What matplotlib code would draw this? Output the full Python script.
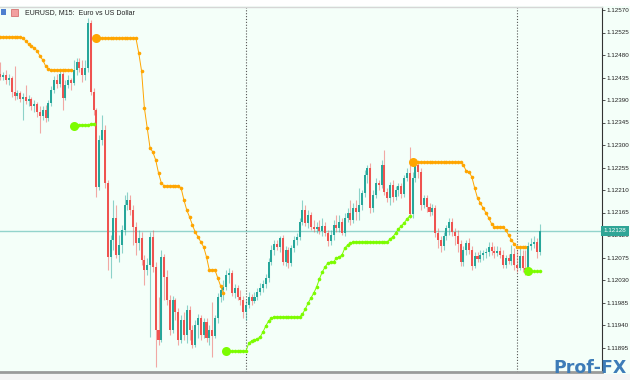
import matplotlib.pyplot as plt
import numpy as np
from matplotlib.patches import Rectangle
from matplotlib.transforms import blended_transform_factory

# EURUSD M15 bars (price)
opens = [
    1.12442, 1.12436, 1.12440, 1.12430, 1.12434, 1.12406, 1.12398, 1.12404, 1.12392, 1.12396, 1.12388, 1.12392,
    1.12378, 1.12382, 1.12366, 1.12358, 1.12370, 1.12354, 1.12384, 1.12410, 1.12430, 1.12422, 1.12442, 1.12394,
    1.12420, 1.12430, 1.12424, 1.12450, 1.12466, 1.12454, 1.12440, 1.12454, 1.12544, 1.12406, 1.12370, 1.12216,
    1.12310, 1.12330, 1.12224, 1.12076, 1.12110, 1.12154, 1.12080, 1.12100, 1.12130, 1.12180, 1.12190, 1.12170,
    1.12136, 1.12104, 1.12114, 1.12070, 1.12050, 1.12060, 1.12116, 1.12056, 1.11930, 1.11910, 1.12076, 1.12036,
    1.11990, 1.11930, 1.11990, 1.11966, 1.11910, 1.11950, 1.11920, 1.11970, 1.11930, 1.11900, 1.11940, 1.11954,
    1.11920, 1.11946, 1.11914, 1.11930, 1.11918, 1.11954, 1.11996, 1.12010, 1.12016, 1.12040, 1.12044, 1.12004,
    1.12014, 1.11996, 1.11990, 1.11966, 1.11980, 1.11996, 1.11988, 1.11996, 1.12006, 1.12014, 1.12022, 1.12034,
    1.12066, 1.12090, 1.12102, 1.12096, 1.12114, 1.12066, 1.12090, 1.12064, 1.12094, 1.12110, 1.12116, 1.12146,
    1.12170, 1.12144, 1.12160, 1.12136, 1.12132, 1.12136, 1.12128, 1.12138, 1.12124, 1.12108, 1.12120, 1.12140,
    1.12134, 1.12146, 1.12124, 1.12154, 1.12164, 1.12150, 1.12174, 1.12166, 1.12180, 1.12204, 1.12240, 1.12254,
    1.12174, 1.12200, 1.12224, 1.12220, 1.12260, 1.12206, 1.12194, 1.12220, 1.12196, 1.12210, 1.12218, 1.12202,
    1.12234, 1.12244, 1.12162, 1.12234, 1.12260, 1.12246, 1.12180, 1.12194, 1.12176, 1.12166, 1.12174, 1.12124,
    1.12110, 1.12098, 1.12118, 1.12134, 1.12146, 1.12126, 1.12118, 1.12102, 1.12066, 1.12090, 1.12104, 1.12090,
    1.12058, 1.12078, 1.12072, 1.12080, 1.12084, 1.12086, 1.12096, 1.12088, 1.12084, 1.12088, 1.12080, 1.12060,
    1.12074, 1.12068, 1.12082, 1.12060, 1.12054, 1.12078, 1.12054, 1.12050, 1.12098, 1.12102, 1.12106, 1.12086,
]
highs = [
    1.12466, 1.12446, 1.12450, 1.12442, 1.12438, 1.12458, 1.12410, 1.12408, 1.12404, 1.12420, 1.12400, 1.12396,
    1.12390, 1.12386, 1.12378, 1.12378, 1.12380, 1.12390, 1.12418, 1.12438, 1.12442, 1.12450, 1.12446, 1.12430,
    1.12440, 1.12434, 1.12470, 1.12474, 1.12474, 1.12470, 1.12470, 1.12554, 1.12550, 1.12414, 1.12374, 1.12320,
    1.12360, 1.12340, 1.12230, 1.12120, 1.12190, 1.12180, 1.12120, 1.12140, 1.12200, 1.12206, 1.12200, 1.12180,
    1.12146, 1.12130, 1.12126, 1.12080, 1.12074, 1.12126, 1.12130, 1.12066, 1.11996, 1.12090, 1.12082, 1.12050,
    1.12000, 1.11998, 1.11994, 1.11974, 1.11960, 1.11966, 1.11980, 1.11978, 1.11940, 1.11950, 1.11962, 1.11960,
    1.11954, 1.11954, 1.11940, 1.11986, 1.11960, 1.12004, 1.12020, 1.12030, 1.12050, 1.12054, 1.12050, 1.12022,
    1.12020, 1.12010, 1.11998, 1.11990, 1.12006, 1.12002, 1.12006, 1.12014, 1.12024, 1.12030, 1.12042, 1.12074,
    1.12100, 1.12110, 1.12110, 1.12118, 1.12120, 1.12098, 1.12096, 1.12100, 1.12118, 1.12124, 1.12154, 1.12190,
    1.12180, 1.12170, 1.12166, 1.12150, 1.12146, 1.12150, 1.12154, 1.12146, 1.12130, 1.12130, 1.12150, 1.12160,
    1.12160, 1.12154, 1.12164, 1.12174, 1.12190, 1.12184, 1.12190, 1.12214, 1.12210, 1.12250, 1.12260, 1.12264,
    1.12210, 1.12234, 1.12230, 1.12270, 1.12290, 1.12214, 1.12226, 1.12230, 1.12218, 1.12224, 1.12224, 1.12240,
    1.12254, 1.12296, 1.12246, 1.12270, 1.12266, 1.12254, 1.12200, 1.12200, 1.12184, 1.12182, 1.12180, 1.12134,
    1.12118, 1.12126, 1.12140, 1.12154, 1.12154, 1.12134, 1.12130, 1.12110, 1.12098, 1.12110, 1.12114, 1.12098,
    1.12086, 1.12086, 1.12090, 1.12090, 1.12094, 1.12106, 1.12106, 1.12098, 1.12098, 1.12096, 1.12090, 1.12080,
    1.12082, 1.12100, 1.12094, 1.12090, 1.12094, 1.12090, 1.12090, 1.12106, 1.12114, 1.12118, 1.12114, 1.12142,
]
lows = [
    1.12430, 1.12430, 1.12422, 1.12420, 1.12396, 1.12390, 1.12392, 1.12386, 1.12350, 1.12382, 1.12378, 1.12370,
    1.12366, 1.12356, 1.12324, 1.12350, 1.12346, 1.12348, 1.12378, 1.12404, 1.12414, 1.12416, 1.12370, 1.12390,
    1.12414, 1.12410, 1.12420, 1.12440, 1.12446, 1.12426, 1.12430, 1.12446, 1.12400, 1.12360, 1.12196, 1.12210,
    1.12300, 1.12214, 1.12050, 1.12034, 1.12090, 1.12074, 1.12066, 1.12084, 1.12120, 1.12170, 1.12160, 1.12100,
    1.12080, 1.12090, 1.12060, 1.12020, 1.12040, 1.11916, 1.12046, 1.11856, 1.11900, 1.11906, 1.11990, 1.11980,
    1.11920, 1.11924, 1.11950, 1.11900, 1.11904, 1.11910, 1.11904, 1.11910, 1.11894, 1.11896, 1.11914, 1.11910,
    1.11914, 1.11906, 1.11900, 1.11876, 1.11914, 1.11944, 1.11986, 1.11990, 1.12010, 1.12024, 1.11998, 1.11994,
    1.11990, 1.11980, 1.11954, 1.11950, 1.11974, 1.11980, 1.11984, 1.11990, 1.12000, 1.12006, 1.12014, 1.12026,
    1.12060, 1.12080, 1.12090, 1.12086, 1.12060, 1.12058, 1.12054, 1.12058, 1.12086, 1.12100, 1.12110, 1.12140,
    1.12138, 1.12134, 1.12130, 1.12126, 1.12124, 1.12122, 1.12118, 1.12118, 1.12098, 1.12100, 1.12110, 1.12126,
    1.12126, 1.12120, 1.12118, 1.12146, 1.12140, 1.12144, 1.12150, 1.12150, 1.12170, 1.12196, 1.12224, 1.12164,
    1.12166, 1.12194, 1.12210, 1.12214, 1.12200, 1.12186, 1.12180, 1.12186, 1.12190, 1.12198, 1.12194, 1.12196,
    1.12228, 1.12154, 1.12154, 1.12226, 1.12234, 1.12170, 1.12174, 1.12166, 1.12158, 1.12160, 1.12116, 1.12094,
    1.12086, 1.12090, 1.12110, 1.12120, 1.12118, 1.12100, 1.12086, 1.12058, 1.12058, 1.12080, 1.12082, 1.12050,
    1.12054, 1.12066, 1.12066, 1.12070, 1.12074, 1.12078, 1.12080, 1.12074, 1.12078, 1.12074, 1.12054, 1.12054,
    1.12062, 1.12060, 1.12050, 1.12046, 1.12050, 1.12046, 1.12040, 1.12046, 1.12090, 1.12094, 1.12074, 1.12080,
]
closes = [
    1.12436, 1.12440, 1.12430, 1.12434, 1.12406, 1.12398, 1.12404, 1.12392, 1.12396, 1.12388, 1.12392, 1.12378,
    1.12382, 1.12366, 1.12358, 1.12370, 1.12354, 1.12384, 1.12410, 1.12430, 1.12422, 1.12442, 1.12394, 1.12420,
    1.12430, 1.12424, 1.12450, 1.12466, 1.12454, 1.12440, 1.12454, 1.12544, 1.12406, 1.12370, 1.12216, 1.12310,
    1.12330, 1.12224, 1.12076, 1.12110, 1.12154, 1.12080, 1.12100, 1.12130, 1.12180, 1.12190, 1.12170, 1.12136,
    1.12104, 1.12114, 1.12070, 1.12050, 1.12060, 1.12116, 1.12056, 1.11930, 1.11910, 1.12076, 1.12036, 1.11990,
    1.11930, 1.11990, 1.11966, 1.11910, 1.11950, 1.11920, 1.11970, 1.11930, 1.11900, 1.11940, 1.11954, 1.11920,
    1.11946, 1.11914, 1.11930, 1.11918, 1.11954, 1.11996, 1.12010, 1.12016, 1.12040, 1.12044, 1.12004, 1.12014,
    1.11996, 1.11990, 1.11966, 1.11980, 1.11996, 1.11988, 1.11996, 1.12006, 1.12014, 1.12022, 1.12034, 1.12066,
    1.12090, 1.12102, 1.12096, 1.12114, 1.12066, 1.12090, 1.12064, 1.12094, 1.12110, 1.12116, 1.12146, 1.12170,
    1.12144, 1.12160, 1.12136, 1.12132, 1.12136, 1.12128, 1.12138, 1.12124, 1.12108, 1.12120, 1.12140, 1.12134,
    1.12146, 1.12124, 1.12154, 1.12164, 1.12150, 1.12174, 1.12166, 1.12180, 1.12204, 1.12240, 1.12254, 1.12174,
    1.12200, 1.12224, 1.12220, 1.12260, 1.12206, 1.12194, 1.12220, 1.12196, 1.12210, 1.12218, 1.12202, 1.12234,
    1.12244, 1.12162, 1.12234, 1.12260, 1.12246, 1.12180, 1.12194, 1.12176, 1.12166, 1.12174, 1.12124, 1.12110,
    1.12098, 1.12118, 1.12134, 1.12146, 1.12126, 1.12118, 1.12102, 1.12066, 1.12090, 1.12104, 1.12090, 1.12058,
    1.12078, 1.12072, 1.12080, 1.12084, 1.12086, 1.12096, 1.12088, 1.12084, 1.12088, 1.12080, 1.12060, 1.12074,
    1.12068, 1.12082, 1.12060, 1.12054, 1.12078, 1.12054, 1.12050, 1.12098, 1.12102, 1.12106, 1.12086, 1.12128,
]

# trailing stop indicator: segments as (first bar, values)
sell_stops = [
    (0, [1.12516, 1.12516, 1.12516, 1.12516, 1.12516, 1.12516, 1.12516, 1.12516, 1.12514, 1.12508, 1.12502,
         1.12498, 1.12494, 1.12488, 1.12478, 1.12470, 1.12458, 1.12452, 1.12450, 1.12450, 1.12450, 1.12450,
         1.12450, 1.12450, 1.12450, 1.12450]),
    (34, [1.12514, 1.12514, 1.12514, 1.12514, 1.12514, 1.12514, 1.12514, 1.12514, 1.12514, 1.12514, 1.12514,
          1.12514, 1.12514, 1.12514, 1.12514, 1.12484, 1.12448, 1.12374, 1.12334, 1.12294, 1.12286, 1.12270,
          1.12244, 1.12224, 1.12218, 1.12218, 1.12218, 1.12218, 1.12218, 1.12218, 1.12214, 1.12190, 1.12170,
          1.12156, 1.12140, 1.12126, 1.12116, 1.12106, 1.12096, 1.12076, 1.12050, 1.12050, 1.12050, 1.12034,
          1.12018, 1.12004]),
    (146, [1.12266, 1.12266, 1.12266, 1.12266, 1.12266, 1.12266, 1.12266, 1.12266, 1.12266, 1.12266, 1.12266,
           1.12266, 1.12266, 1.12266, 1.12266, 1.12266, 1.12266, 1.12266, 1.12260, 1.12248, 1.12246, 1.12236,
           1.12214, 1.12194, 1.12184, 1.12174, 1.12164, 1.12154, 1.12142, 1.12136, 1.12136, 1.12136, 1.12136,
           1.12130, 1.12120, 1.12110, 1.12102, 1.12096, 1.12096, 1.12096, 1.12096]),
]
buy_stops = [
    (26, [1.12338, 1.12338, 1.12340, 1.12340, 1.12340, 1.12340, 1.12342, 1.12342]),
    (80, [1.11888, 1.11888, 1.11888, 1.11888, 1.11888, 1.11888, 1.11888, 1.11888, 1.11904, 1.11908, 1.11910,
          1.11912, 1.11916, 1.11926, 1.11938, 1.11948, 1.11954, 1.11956, 1.11956, 1.11956, 1.11956, 1.11956,
          1.11956, 1.11956, 1.11956, 1.11956, 1.11956, 1.11962, 1.11972, 1.11984, 1.11994, 1.12004, 1.12016,
          1.12032, 1.12046, 1.12056, 1.12064, 1.12066, 1.12066, 1.12074, 1.12076, 1.12080, 1.12094, 1.12100,
          1.12104, 1.12106, 1.12106, 1.12106, 1.12106, 1.12106, 1.12106, 1.12106, 1.12106, 1.12106, 1.12106,
          1.12106, 1.12106, 1.12106, 1.12112, 1.12116, 1.12124, 1.12132, 1.12138, 1.12144, 1.12152, 1.12158]),
    (187, [1.12048, 1.12048, 1.12048, 1.12048, 1.12048]),
]

day_breaks = [87, 183]
price_ticks = [1.12570, 1.12525, 1.12480, 1.12435, 1.12390, 1.12345, 1.12300, 1.12255, 1.12210,
               1.12165, 1.12120, 1.12075, 1.12030, 1.11985, 1.11940, 1.11895]
last_price = 1.12128

BG = "#f4fff9"
BULL = "#26a69a"
BEAR = "#ef5350"

o = np.array(opens)
h = np.array(highs)
l = np.array(lows)
c = np.array(closes)
x = np.arange(len(c))
up = c >= o

fig = plt.figure(figsize=(6.3, 3.8), dpi=100, facecolor=BG)
ax = fig.add_axes([0, 8 / 380, 602 / 630, 365 / 380], facecolor=BG)

# wicks then bodies
ax.vlines(x[up], l[up], h[up], color=BULL, alpha=0.5, lw=0.8, zorder=2)
ax.vlines(x[~up], l[~up], h[~up], color=BEAR, alpha=0.5, lw=0.8, zorder=2)
body = np.maximum(np.abs(c - o), 0.000015)
ax.bar(x[up], body[up], bottom=np.minimum(o, c)[up], width=0.72, color=BULL, lw=0, zorder=3)
ax.bar(x[~up], body[~up], bottom=np.minimum(o, c)[~up], width=0.72, color=BEAR, lw=0, zorder=3)

# trailing stop dots
for segs, col in [(sell_stops, "#ffa500"), (buy_stops, "#7cfc00")]:
    for start, vals in segs:
        xs = np.arange(start, start + len(vals))
        ax.plot(xs, vals, color=col, lw=0.7, marker="o", ms=2.6, mew=0, zorder=4)
        if start > 0:
            ax.plot(xs[0], vals[0], "o", color=col, ms=6.5, mew=0, zorder=5)

for d in day_breaks:
    ax.axvline(d, color="#555555", lw=0.8, ls=(0, (1, 1.6)), zorder=1)

ax.axhline(last_price, color="#93d4cc", lw=1.0, zorder=1)

ax.set_xlim(-0.15, 213.1)
ax.set_ylim(1.11846, 1.12576)
ax.set_xticks([])
ax.yaxis.tick_right()
ax.set_yticks(price_ticks)
ax.set_yticklabels([f"{t:.5f}" for t in price_ticks])
ax.tick_params(axis="y", length=2.5, width=0.6, color="#333333", labelsize=4.5,
               labelcolor="#222222", pad=1)
for lab in ax.get_yticklabels():
    lab.set_fontfamily("Liberation Sans")
ax.spines["left"].set_visible(False)
ax.spines["right"].set_color("#333333")
ax.spines["right"].set_linewidth(0.8)
ax.spines["top"].set_color("#d6d6d6")
ax.spines["top"].set_linewidth(1.0)
ax.spines["bottom"].set_color("#9a9a9a")
ax.spines["bottom"].set_linewidth(2.0)

# current price tag
tr = blended_transform_factory(ax.transAxes, ax.transData)
ax.text(1.003, last_price, f"{last_price:.5f}", transform=tr, fontsize=4.5, color="white",
        family="Liberation Sans", va="center", ha="left", zorder=6, clip_on=False,
        bbox=dict(boxstyle="square,pad=0.4", fc="#2fa596", ec="none"))

# header strip and title
fig.patches.append(Rectangle((0, 1 - 6 / 380), 1, 6 / 380, transform=fig.transFigure,
                             fc="white", ec="none", zorder=0))
fig.patches.append(Rectangle((1 / 630, 1 - 15 / 380), 5 / 630, 6 / 380, transform=fig.transFigure,
                             fc="#4f7fcf", ec="none", zorder=5))
fig.patches.append(Rectangle((11 / 630, 1 - 15.5 / 380), 7 / 630, 7 / 380, transform=fig.transFigure,
                             fc="#f2a0a0", ec="#d06060", lw=0.5, zorder=5))
fig.text(25 / 630, 1 - 12.5 / 380, "EURUSD, M15:  Euro vs US Dollar", fontsize=5.0,
         family="Liberation Sans", color="#222222", va="center", ha="left")

# bottom strip and watermark
fig.patches.append(Rectangle((0, 0), 1, 6 / 380, transform=fig.transFigure,
                             fc="#f4f4f4", ec="none", zorder=0))
fig.text(627 / 630, 3 / 380, "Prof-FX", fontsize=12.5, fontweight="bold", color="#3d7cb8",
         family="DejaVu Sans", ha="right", va="bottom", zorder=10)

fig.savefig("out.png", dpi=100, facecolor=BG)
